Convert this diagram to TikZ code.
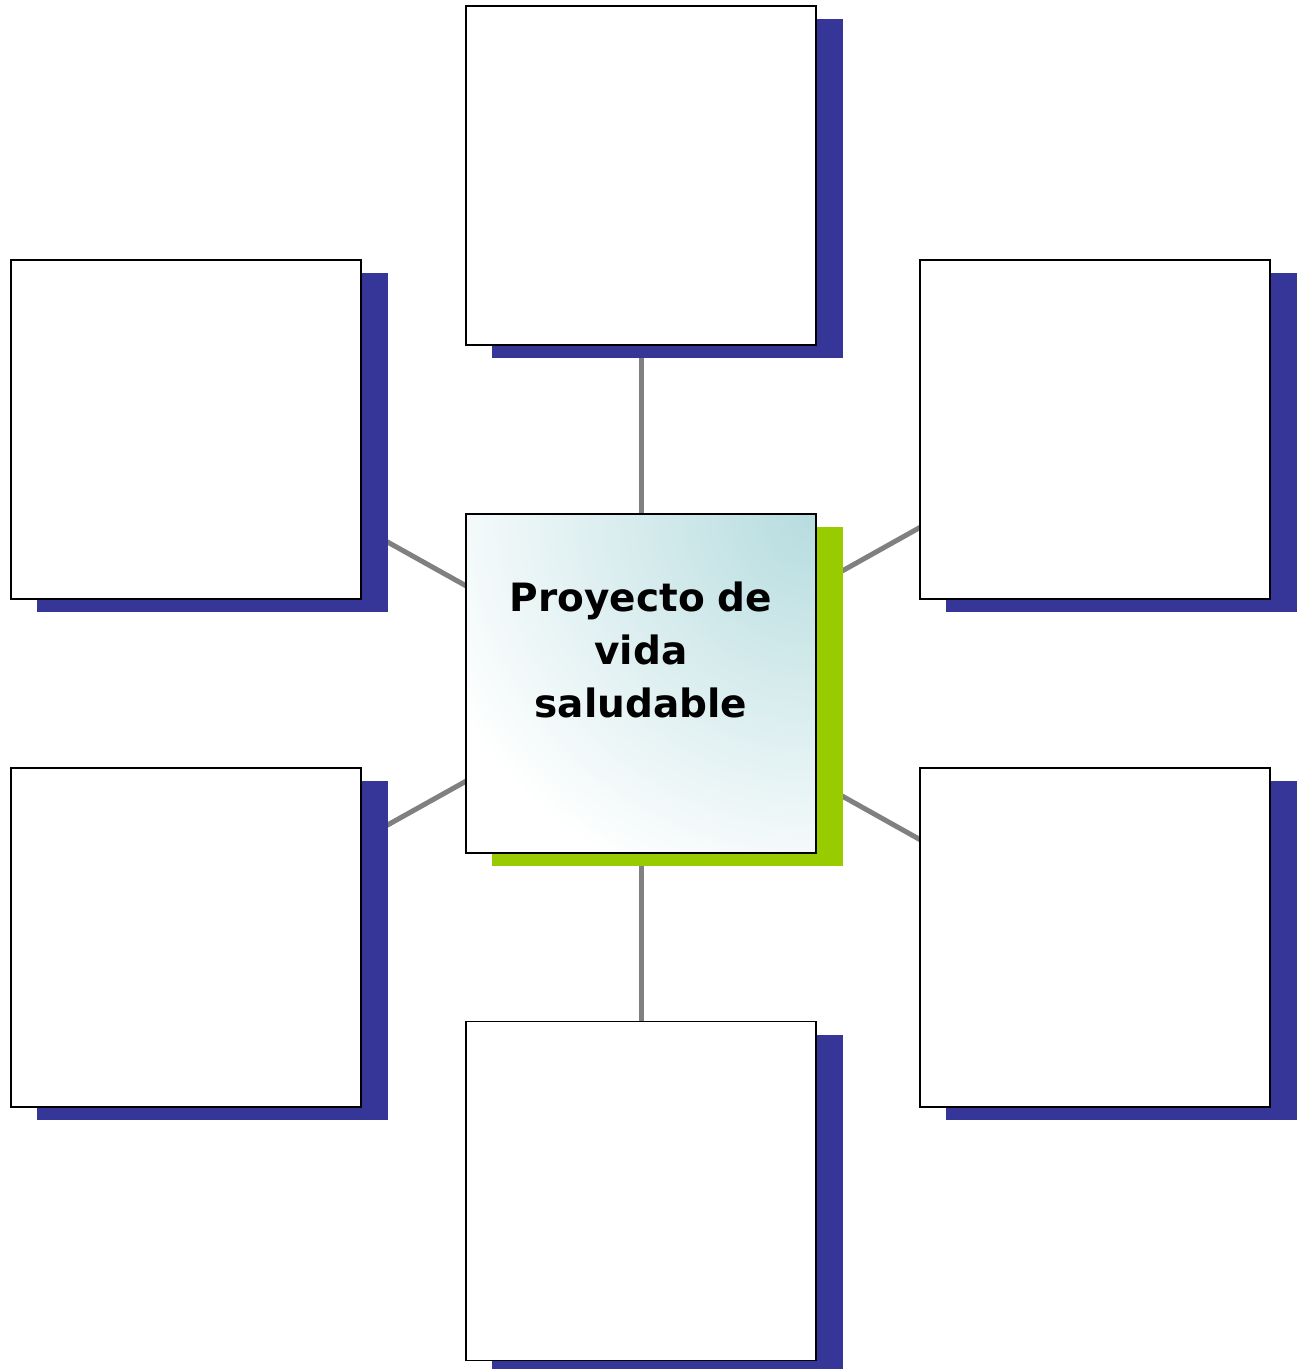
\documentclass[tikz,border=0pt]{standalone}
\usepackage{fontspec}
\setmainfont{DejaVu Sans}
\definecolor{shadowblue}{HTML}{363699}
\definecolor{shadowgreen}{HTML}{99CC00}
\definecolor{linkgray}{HTML}{808080}
\definecolor{tealtint}{HTML}{B6DCDF}
\tikzset{
  px/.style={x=1pt,y=-1pt},
  boxframe/.style={draw=black,line width=1.8pt,fill=white,minimum width=350pt,minimum height=339pt,inner sep=0pt,outer sep=0pt},
  link/.style={draw=linkgray,line width=5pt}
}
\begin{document}
\begin{tikzpicture}[px]
\useasboundingbox (0,0) rectangle (1297,1369);
% node centres
\coordinate (cT) at (641,175.5);
\coordinate (cLT) at (186,429.5);
\coordinate (cRT) at (1095,429.5);
\coordinate (cC) at (641,683.5);
\coordinate (cLB) at (186,937.5);
\coordinate (cRB) at (1095,937.5);
\coordinate (cB) at (641,1191);
% connectors (drawn first, hidden by boxes)
\draw[link] (cC) -- (cT);
\draw[link] (cC) -- (cLT);
\draw[link] (cC) -- (cRT);
\draw[link] (cC) -- (cLB);
\draw[link] (cC) -- (cRB);
\draw[link] (cC) -- (cB);
% shadows
\foreach \c in {cT,cLT,cRT,cLB,cRB,cB}{
  \fill[shadowblue] ([shift={(-175+26,-169.5+13)}]\c) rectangle ([shift={(175+27,169.5+13)}]\c);
}
\fill[shadowgreen] ([shift={(-175+26,-169.5+13)}]cC) rectangle ([shift={(175+27,169.5+13)}]cC);
% boxes
\node[boxframe] (T) at (cT) {};
\node[boxframe] (LT) at (cLT) {};
\node[boxframe] (RT) at (cRT) {};
\node[boxframe] (LB) at (cLB) {};
\node[boxframe] (RB) at (cRB) {};
\node[boxframe] (B) at (cB) {};
% centre box with gradient
\node[boxframe] (C) at (cC) {};
\begin{scope}
  \clip (C.north west) rectangle (C.south east);
  \shade[inner color=tealtint,outer color=white] (C.north east) ellipse [x radius=410pt, y radius=400pt];
\end{scope}
\draw[black,line width=1.8pt] (C.north west) rectangle (C.south east);
\node[font=\bfseries\fontsize{39}{53}\selectfont,align=center,text width=340pt,inner sep=0pt] (label) at (641,650) {Proyecto de\\vida\\saludable};
\end{tikzpicture}
\end{document}
